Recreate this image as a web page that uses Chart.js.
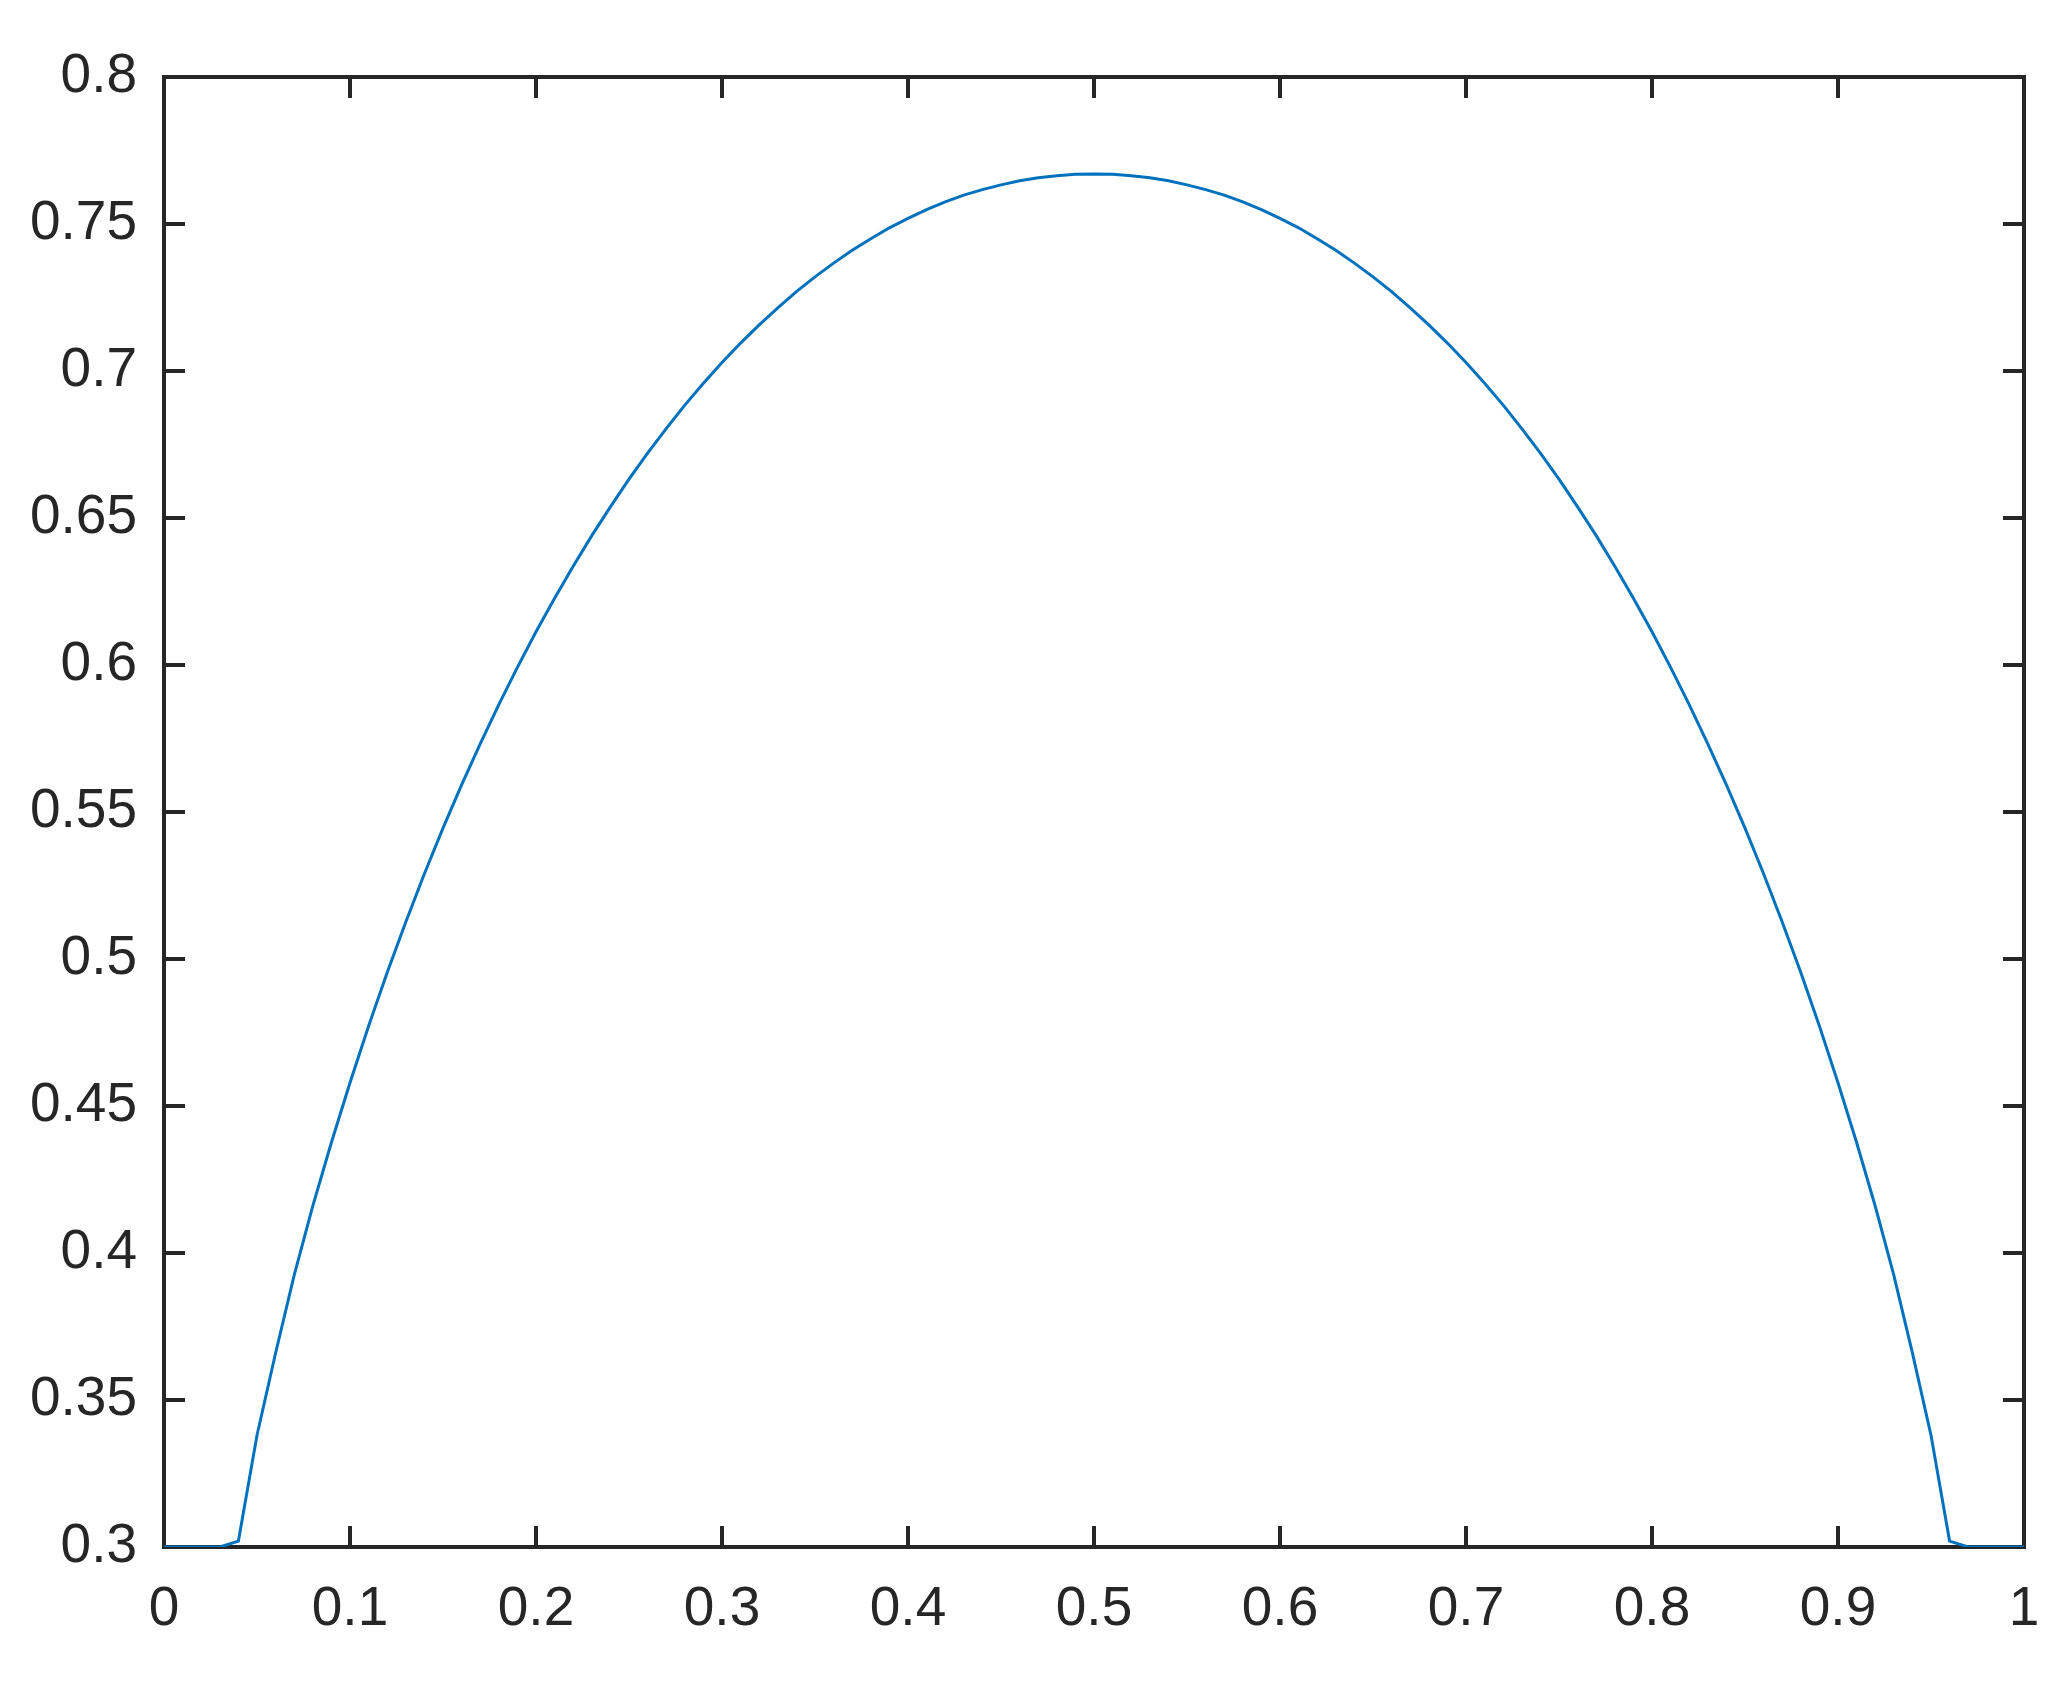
<!DOCTYPE html>
<html>
<head>
<meta charset="utf-8">
<script src="https://cdn.jsdelivr.net/npm/chart.js@4.4.1/dist/chart.umd.min.js"></script>
<style>
  html, body { margin: 0; padding: 0; background: #fff; }
  canvas { display: block; }
</style>
</head>
<body>
<canvas id="curve" width="2063" height="1695"></canvas>
<script>
// curve samples
const xValues = [
  0.00, 0.01, 0.02, 0.03, 0.04, 0.05, 0.06, 0.07, 0.08, 0.09, 0.10,
  0.11, 0.12, 0.13, 0.14, 0.15, 0.16, 0.17, 0.18, 0.19, 0.20,
  0.21, 0.22, 0.23, 0.24, 0.25, 0.26, 0.27, 0.28, 0.29, 0.30,
  0.31, 0.32, 0.33, 0.34, 0.35, 0.36, 0.37, 0.38, 0.39, 0.40,
  0.41, 0.42, 0.43, 0.44, 0.45, 0.46, 0.47, 0.48, 0.49, 0.50,
  0.51, 0.52, 0.53, 0.54, 0.55, 0.56, 0.57, 0.58, 0.59, 0.60,
  0.61, 0.62, 0.63, 0.64, 0.65, 0.66, 0.67, 0.68, 0.69, 0.70,
  0.71, 0.72, 0.73, 0.74, 0.75, 0.76, 0.77, 0.78, 0.79, 0.80,
  0.81, 0.82, 0.83, 0.84, 0.85, 0.86, 0.87, 0.88, 0.89, 0.90,
  0.91, 0.92, 0.93, 0.94, 0.95, 0.96, 0.97, 0.98, 0.99, 1.00
];
const yValues = [
  0.3000, 0.3000, 0.3000, 0.3000, 0.3020, 0.3380, 0.3660, 0.3925, 0.4160, 0.4376, 0.4579,
  0.4772, 0.4954, 0.5126, 0.5290, 0.5445, 0.5592, 0.5732, 0.5865, 0.5992, 0.6113,
  0.6227, 0.6336, 0.6440, 0.6538, 0.6632, 0.6721, 0.6804, 0.6884, 0.6958, 0.7029,
  0.7095, 0.7157, 0.7215, 0.7270, 0.7320, 0.7367, 0.7411, 0.7450, 0.7487, 0.7519,
  0.7549, 0.7575, 0.7598, 0.7617, 0.7633, 0.7647, 0.7657, 0.7664, 0.7669, 0.7670,
  0.7669, 0.7664, 0.7657, 0.7647, 0.7633, 0.7617, 0.7598, 0.7575, 0.7549, 0.7519,
  0.7487, 0.7450, 0.7411, 0.7367, 0.7320, 0.7270, 0.7215, 0.7157, 0.7095, 0.7029,
  0.6958, 0.6884, 0.6804, 0.6721, 0.6632, 0.6538, 0.6440, 0.6336, 0.6227, 0.6113,
  0.5992, 0.5865, 0.5732, 0.5592, 0.5445, 0.5290, 0.5126, 0.4954, 0.4772, 0.4579,
  0.4376, 0.4160, 0.3925, 0.3660, 0.3380, 0.3020, 0.3000, 0.3000, 0.3000, 0.3000
];

const xTicks = [0, 0.1, 0.2, 0.3, 0.4, 0.5, 0.6, 0.7, 0.8, 0.9, 1];
const xTickLabels = ['0', '0.1', '0.2', '0.3', '0.4', '0.5', '0.6', '0.7', '0.8', '0.9', '1'];
const yTicks = [0.3, 0.35, 0.4, 0.45, 0.5, 0.55, 0.6, 0.65, 0.7, 0.75, 0.8];
const yTickLabels = ['0.3', '0.35', '0.4', '0.45', '0.5', '0.55', '0.6', '0.65', '0.7', '0.75', '0.8'];

const axisColor = '#262626';
const lineColor = '#0072BD';
const tickFont = { family: '"Liberation Sans", Arial, sans-serif', size: 55 };

// matlab style box with inward ticks on all four sides
const boxPlugin = {
  id: 'boxAxes',
  beforeDatasetsDraw(chart) {
    const { ctx, chartArea: a, scales } = chart;
    const len = 21;
    ctx.save();
    ctx.strokeStyle = axisColor;
    ctx.lineWidth = 4;
    ctx.beginPath();
    xTicks.forEach(v => {
      const px = scales.x.getPixelForValue(v);
      ctx.moveTo(px, a.bottom);
      ctx.lineTo(px, a.bottom - len);
      ctx.moveTo(px, a.top);
      ctx.lineTo(px, a.top + len);
    });
    yTicks.forEach(v => {
      const py = scales.y.getPixelForValue(v);
      ctx.moveTo(a.left, py);
      ctx.lineTo(a.left + len, py);
      ctx.moveTo(a.right, py);
      ctx.lineTo(a.right - len, py);
    });
    ctx.stroke();
    ctx.strokeRect(a.left, a.top, a.right - a.left, a.bottom - a.top);
    ctx.restore();
  }
};

const points = xValues.map((x, i) => ({ x: x, y: yValues[i] }));

new Chart(document.getElementById('curve'), {
  type: 'line',
  data: {
    datasets: [{
      data: points,
      borderColor: lineColor,
      borderWidth: 3,
      pointRadius: 0,
      tension: 0,
      fill: false
    }]
  },
  options: {
    responsive: false,
    animation: false,
    layout: { padding: { top: 77, right: 39, left: 0, bottom: 0 } },
    plugins: {
      legend: { display: false },
      tooltip: { enabled: false }
    },
    scales: {
      x: {
        type: 'linear',
        min: 0,
        max: 1,
        grid: { display: false, drawTicks: false },
        border: { display: false },
        afterBuildTicks: s => { s.ticks = xTicks.map(v => ({ value: v })); },
        afterFit: s => {
          s.height = 148;
          // labels may overhang the plot edges
          s.paddingLeft = 0;
          s.paddingRight = 0;
        },
        ticks: {
          font: tickFont,
          color: axisColor,
          padding: 30,
          maxRotation: 0,
          autoSkip: false,
          callback: (v, i) => xTickLabels[i]
        }
      },
      y: {
        type: 'linear',
        min: 0.3,
        max: 0.8,
        grid: { display: false, drawTicks: false },
        border: { display: false },
        afterBuildTicks: s => { s.ticks = yTicks.map(v => ({ value: v })); },
        afterFit: s => { s.width = 164; },
        ticks: {
          font: tickFont,
          color: axisColor,
          padding: 27,
          autoSkip: false,
          callback: (v, i) => yTickLabels[i]
        }
      }
    }
  },
  plugins: [boxPlugin]
});
</script>
</body>
</html>
